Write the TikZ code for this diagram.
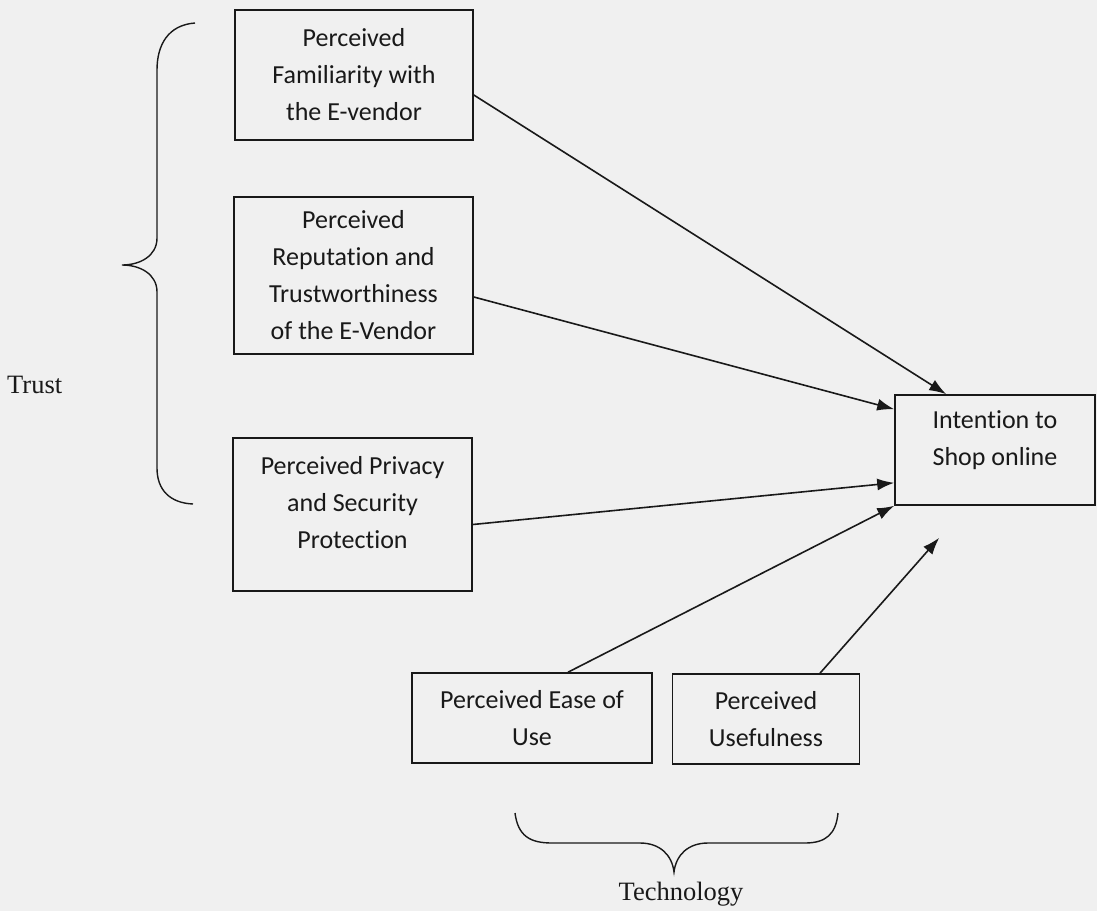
\documentclass[tikz,border=0pt]{standalone}
\usepackage{fontspec}
\setmainfont{Liberation Serif}
\newfontfamily\boxfont[Ligatures=NoCommon]{Carlito}
\usetikzlibrary{calc,arrows.meta}
\definecolor{bg}{RGB}{240,240,240}
\definecolor{ink}{RGB}{25,25,25}
\tikzset{
  factor/.style={draw=ink, line width=1.6pt, rectangle, align=center, inner sep=0pt,
    font=\boxfont\fontsize{26}{37}\selectfont, text=ink},
  link/.style={draw=ink, line width=1.6pt, -{Latex[length=17pt,width=12pt]}},
  brace/.style={draw=ink, line width=1.4pt},
  group/.style={font=\fontsize{26.5}{30}\selectfont, text=ink, inner sep=0pt}
}
\begin{document}
\begin{tikzpicture}[x=1pt,y=-1pt]
\fill[bg] (0,0) rectangle (1097,911);
\useasboundingbox (0,0) rectangle (1097,911);

\node[factor, minimum width=238pt, minimum height=130pt] (fam) at (354,75)
  {Perceived\\Familiarity with\\the E-vendor};
\node[factor, minimum width=239pt, minimum height=157pt] (rep) at (353.5,275.5)
  {Perceived\\Reputation and\\Trustworthiness\\of the E-Vendor};
\node[factor, minimum width=239pt, minimum height=153pt] (priv) at (352.5,514.5)
  {Perceived Privacy\\and Security\\Protection\\[-12pt]\mbox{}};
\node[factor, minimum width=200pt, minimum height=110pt] (int) at (995,450)
  {Intention to\\Shop online\\[-14pt]\mbox{}};
\node[factor, minimum width=240pt, minimum height=90pt] (ease) at (532,718)
  {Perceived Ease of\\Use};
\node[factor, minimum width=187pt, minimum height=90pt] (use) at (766,719)
  {Perceived\\Usefulness};

\node[group, anchor=base west] (trust) at (7,393) {Trust};
\node[group, anchor=base] (tech) at (681,900) {Technology};

\coordinate (useend) at ($(int.south west)+(45,32)$);

\draw[link] ($(fam.east)+(0,20)$) -- ($(int.north west)+(52,0)$);
\draw[link] ($(rep.east)+(0,21.5)$) -- ($(int.north west)+(0,15)$);
\draw[link] ($(priv.east)+(0,10)$) -- ($(int.south west)+(0,-23)$);
\draw[link] ($(ease.north)+(36,0)$) -- (int.south west);
\draw[link] ($(use.north)+(54,0)$) -- (useend);

\draw[brace] (195,23) .. controls (168,25) and (157,45) .. (157,70) -- (157,238)
  .. controls (157,256) and (140,265) .. (122,265)
  .. controls (140,265) and (157,274) .. (157,292) -- (157,468)
  .. controls (157,490) and (170,503) .. (193,504);

\draw[brace] (515,813) .. controls (518,836) and (530,843) .. (552,843) -- (640,843)
  .. controls (660,843) and (672,855) .. (674,872)
  .. controls (676,855) and (688,843) .. (708,843) -- (805,843)
  .. controls (826,843) and (836,834) .. (838,813);
\end{tikzpicture}
\end{document}
